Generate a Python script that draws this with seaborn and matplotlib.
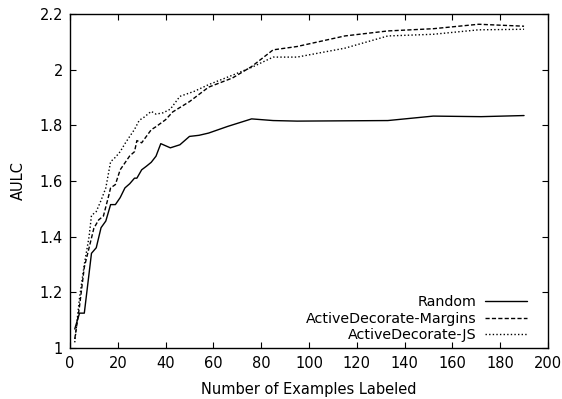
import matplotlib
matplotlib.use("Agg")
import matplotlib.pyplot as plt
import seaborn as sns
import pandas as pd

# Data
random_x = [2, 4, 6, 9, 11, 13, 15, 17, 19, 21, 23, 25, 27, 28, 30, 32, 34, 36, 38, 42, 46, 50, 54, 58, 66, 76, 85, 95, 133, 152, 172, 190]
random_y = [1.068, 1.125, 1.125, 1.34, 1.36, 1.432, 1.456, 1.515, 1.515, 1.54, 1.575, 1.59, 1.61, 1.61, 1.64, 1.653, 1.667, 1.689, 1.734, 1.719, 1.73, 1.76, 1.764, 1.772, 1.796, 1.823, 1.817, 1.815, 1.817, 1.833, 1.831, 1.835]

margins_x = [2, 4, 6, 8, 10, 12, 14, 16, 17, 19, 21, 23, 25, 27, 28, 30, 34, 36, 40, 43, 50, 58, 68, 76, 85, 95, 115, 133, 152, 171, 190]
margins_y = [1.032, 1.15, 1.29, 1.36, 1.43, 1.46, 1.474, 1.54, 1.575, 1.587, 1.64, 1.665, 1.69, 1.705, 1.745, 1.737, 1.784, 1.795, 1.82, 1.848, 1.885, 1.937, 1.97, 2.011, 2.071, 2.083, 2.121, 2.139, 2.147, 2.163, 2.156]

js_x = [2, 4, 6, 8, 9, 11, 13, 15, 17, 19, 21, 23, 25, 27, 29, 31, 34, 36, 39, 42, 46, 52, 58, 68, 76, 85, 95, 115, 133, 152, 171, 190]
js_y = [1.02, 1.18, 1.30, 1.40, 1.476, 1.49, 1.53, 1.575, 1.669, 1.685, 1.705, 1.734, 1.76, 1.785, 1.818, 1.829, 1.85, 1.84, 1.845, 1.858, 1.904, 1.922, 1.946, 1.98, 2.008, 2.045, 2.045, 2.077, 2.121, 2.127, 2.143, 2.145]

series_names = ["Random", "ActiveDecorate-Margins", "ActiveDecorate-JS"]
x_ticks = [0, 20, 40, 60, 80, 100, 120, 140, 160, 180, 200]
y_ticks = [1.0, 1.2, 1.4, 1.6, 1.8, 2.0, 2.2]
y_tick_labels = ["1", "1.2", "1.4", "1.6", "1.8", "2", "2.2"]

sns.set_style("ticks")
plt.rcParams["font.family"] = ["DejaVu Sans"]
plt.rcParams["text.color"] = "black"
plt.rcParams["axes.labelcolor"] = "black"

fig = plt.figure(figsize=(5.62, 3.99), dpi=100)
ax = fig.add_axes([0.1245, 0.128, 0.8505, 0.837])

styles = [dict(linestyle="-"), dict(linestyle=(0, (3, 1.6))), dict(linestyle=(0, (1, 1.6)))]
for name, xs, ys, st in zip(series_names, [random_x, margins_x, js_x], [random_y, margins_y, js_y], styles):
    df = pd.DataFrame({"x": xs, "y": ys})
    sns.lineplot(data=df, x="x", y="y", ax=ax, color="black", linewidth=1.0, label=name, **st)

ax.set_xlim(0, 200)
ax.set_ylim(1.0, 2.2)
ax.set_xticks(x_ticks)
ax.set_xticklabels([str(t) for t in x_ticks])
ax.set_yticks(y_ticks)
ax.set_yticklabels(y_tick_labels)
ax.tick_params(axis="both", direction="in", top=True, right=True, length=4, width=0.8,
               labelsize=10.5, colors="black")
ax.tick_params(axis="x", pad=6)
ax.tick_params(axis="y", pad=5)
for s in ax.spines.values():
    s.set_linewidth(1.0)
    s.set_color("black")
ax.set_xlabel("Number of Examples Labeled", fontsize=10.5, labelpad=8)
ax.set_ylabel("AULC", fontsize=10.5, labelpad=10)

leg = ax.legend(loc="lower right", frameon=False, markerfirst=False, fontsize=10.3,
                handlelength=2.95, handletextpad=0.6, labelspacing=0.18,
                borderaxespad=0, borderpad=0.4,
                bbox_to_anchor=(0.969, 0.0))
for t in leg.get_texts():
    t.set_color("black")

fig.savefig("out.png", dpi=100)
